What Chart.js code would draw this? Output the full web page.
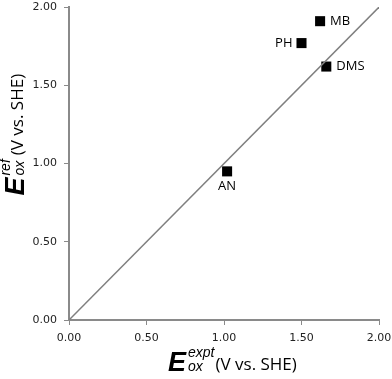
<!DOCTYPE html>
<html>
<head>
<meta charset="utf-8">
<script src="https://cdn.jsdelivr.net/npm/chart.js@4.4.1/dist/chart.umd.min.js"></script>
<style>
  html, body { margin: 0; padding: 0; background: #ffffff; }
  #wrap { width: 392px; height: 379px; position: relative; }
</style>
</head>
<body>
<div id="wrap"><canvas id="c" width="392" height="379"></canvas></div>
<script>
// ---- data ----
const compounds = ['MB', 'PH', 'DMS', 'AN'];
const eoxExpt   = [1.62, 1.50, 1.66, 1.02];   // x values (V vs. SHE)
const eoxRef    = [1.91, 1.77, 1.62, 0.95];   // y values (V vs. SHE)
const parityX   = [0, 2];                     // y = x reference line
const parityY   = [0, 2];
const tickValues = [0, 0.5, 1.0, 1.5, 2.0];
const tickLabels = ['0.00', '0.50', '1.00', '1.50', '2.00'];

// label placement per compound (style, not data)
const labelSide = { MB: 'right', PH: 'left', DMS: 'right', AN: 'below' };

const scatterPoints = compounds.map((c, i) => ({ x: eoxExpt[i], y: eoxRef[i], name: c }));
const linePoints = parityX.map((v, i) => ({ x: v, y: parityY[i] }));

const AXIS_GRAY = '#8a8a8a';

const pointLabelPlugin = {
  id: 'pointLabels',
  afterDatasetsDraw(chart) {
    const ctx = chart.ctx;
    const meta = chart.getDatasetMeta(1);
    ctx.save();
    ctx.font = '13px "Open Sans"';
    ctx.fillStyle = '#000';
    meta.data.forEach((el, i) => {
      const name = compounds[i];
      const side = labelSide[name];
      const off = 10;
      if (side === 'right') {
        ctx.textAlign = 'left'; ctx.textBaseline = 'middle';
        ctx.fillText(name, el.x + off, el.y);
      } else if (side === 'left') {
        ctx.textAlign = 'right'; ctx.textBaseline = 'middle';
        ctx.fillText(name, el.x - off + 1, el.y);
      } else {
        ctx.textAlign = 'center'; ctx.textBaseline = 'middle';
        ctx.fillText(name, el.x, el.y + 15);
      }
    });
    ctx.restore();
  }
};

function drawRichTitle(ctx, supText, unitGap) {
  // draws at current origin: baseline at y=0, starting at x=0
  const bigFont = 'italic bold 27px "Liberation Sans"';
  const smallFont = 'italic 14px "Liberation Sans"';
  const unitFont = '17px "Open Sans"';
  ctx.fillStyle = '#000';
  ctx.textAlign = 'left';
  ctx.textBaseline = 'alphabetic';
  ctx.font = bigFont;
  ctx.fillText('E', 0, 0);
  const eW = ctx.measureText('E').width;
  const sx = eW + 2;
  ctx.font = smallFont;
  ctx.fillText(supText, sx, -14);
  ctx.fillText('ox', sx, 0);
  const w = Math.max(ctx.measureText(supText).width, ctx.measureText('ox').width);
  ctx.font = unitFont;
  ctx.fillText('(V vs. SHE)', sx + w + unitGap, -1);
}

const titlePlugin = {
  id: 'richTitles',
  afterDraw(chart) {
    const ctx = chart.ctx;
    const ca = chart.chartArea;
    ctx.save();
    // x axis title
    ctx.save();
    ctx.translate((ca.left + ca.right) / 2 - 56, 371);
    drawRichTitle(ctx, 'expt', 1);
    ctx.restore();
    // y axis title
    ctx.save();
    ctx.translate(24, (ca.top + ca.bottom) / 2 + 32);
    ctx.rotate(-Math.PI / 2);
    drawRichTitle(ctx, 'ref', 4);
    ctx.restore();
    ctx.restore();
  }
};

function axisCfg(isX) {
  return {
    type: 'linear',
    min: 0,
    max: 2,
    afterBuildTicks(scale) {
      scale.ticks = tickValues.map(v => ({ value: v }));
    },
    afterFit(scale) {
      if (isX) { scale.height = 59; scale.paddingLeft = 0; scale.paddingRight = 0; }
      else { scale.width = 69; scale.paddingTop = 0; scale.paddingBottom = 0; }
    },
    ticks: {
      callback: (v) => tickLabels[tickValues.indexOf(v)] ?? v.toFixed(2),
      font: { family: '"DejaVu Sans"', size: 11 },
      color: '#222',
      padding: 7,
      maxRotation: 0,
      autoSkip: false
    },
    grid: {
      display: true,
      drawOnChartArea: false,
      drawTicks: true,
      tickLength: 5,
      color: AXIS_GRAY,
      lineWidth: 1
    },
    border: { display: true, color: AXIS_GRAY, width: 2 }
  };
}

new Chart(document.getElementById('c'), {
  type: 'scatter',
  data: {
    datasets: [
      {
        type: 'line',
        data: linePoints,
        borderColor: '#7f7f7f',
        borderWidth: 1.5,
        pointRadius: 0,
        fill: false,
        tension: 0
      },
      {
        type: 'scatter',
        data: scatterPoints,
        pointStyle: 'rect',
        pointRadius: 7.1,
        backgroundColor: '#000',
        borderColor: '#000',
        borderWidth: 0
      }
    ]
  },
  options: {
    responsive: false,
    animation: false,
    devicePixelRatio: 1,
    layout: { padding: { left: 0, right: 13, top: 7, bottom: 0 } },
    plugins: {
      legend: { display: false },
      tooltip: { enabled: false },
      title: { display: false }
    },
    scales: {
      x: axisCfg(true),
      y: axisCfg(false)
    }
  },
  plugins: [pointLabelPlugin, titlePlugin]
});
</script>
</body>
</html>
